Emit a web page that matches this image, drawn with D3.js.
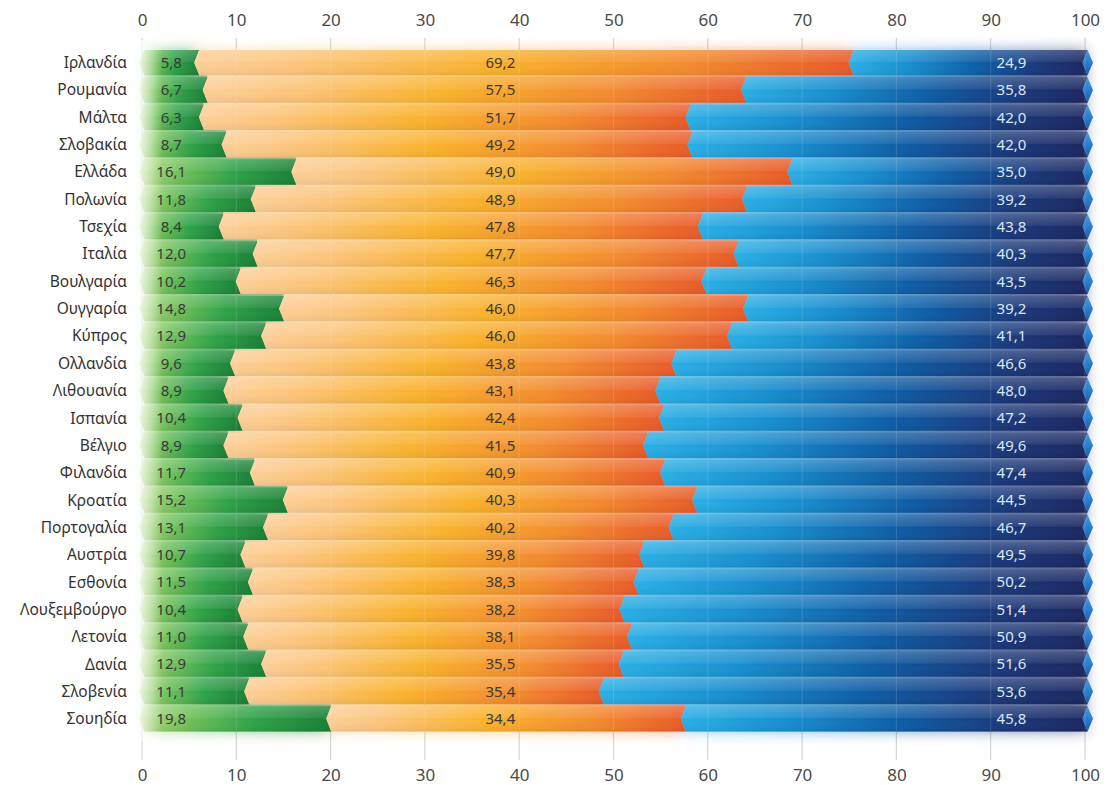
<!DOCTYPE html>
<html><head><meta charset="utf-8">
<script src="https://cdn.jsdelivr.net/npm/d3@7"></script>
<style>body{margin:0;background:#fff}</style>
</head><body><svg id="c" width="1110" height="785"></svg>
<script>
const countries = ["Ιρλανδία","Ρουμανία","Μάλτα","Σλοβακία","Ελλάδα","Πολωνία","Τσεχία","Ιταλία","Βουλγαρία","Ουγγαρία","Κύπρος","Ολλανδία","Λιθουανία","Ισπανία","Βέλγιο","Φιλανδία","Κροατία","Πορτογαλία","Αυστρία","Εσθονία","Λουξεμβούργο","Λετονία","Δανία","Σλοβενία","Σουηδία"];
const greenVals = [5.8,6.7,6.3,8.7,16.1,11.8,8.4,12.0,10.2,14.8,12.9,9.6,8.9,10.4,8.9,11.7,15.2,13.1,10.7,11.5,10.4,11.0,12.9,11.1,19.8];
const orangeVals = [69.2,57.5,51.7,49.2,49.0,48.9,47.8,47.7,46.3,46.0,46.0,43.8,43.1,42.4,41.5,40.9,40.3,40.2,39.8,38.3,38.2,38.1,35.5,35.4,34.4];
const blueVals = [24.9,35.8,42.0,42.0,35.0,39.2,43.8,40.3,43.5,39.2,41.1,46.6,48.0,47.2,49.6,47.4,44.5,46.7,49.5,50.2,51.4,50.9,51.6,53.6,45.8];
// where the orange band visibly ends in the reference picture
const orangeEndShown = [75.2,63.8,57.9,58.1,68.7,63.9,59.2,63.0,59.6,64.0,62.3,56.4,54.7,55.1,53.4,55.2,58.6,56.1,53.0,52.4,50.9,51.7,50.8,48.7,57.4];
const tickValues = [0,10,20,30,40,50,60,70,80,90,100];

const fmt = v => v.toFixed(1).replace('.', ',');
const svg = d3.select('#c');
const x = d3.scaleLinear().domain([0,100]).range([142,1085]);
const y = d3.scaleBand().domain(countries).range([50,731.5]).paddingInner(0.075).paddingOuter(0);
const step = y.step(), bw = y.bandwidth();
const D = 5;
const FONT = "'Noto Sans', 'Open Sans', sans-serif";

const defs = svg.append('defs');
function lin(id, stops, vertical){
  const g = defs.append('linearGradient').attr('id', id);
  if (vertical) g.attr('x1',0).attr('y1',0).attr('x2',0).attr('y2',1);
  stops.forEach(s => g.append('stop').attr('offset', s[0]).attr('stop-color', s[1]).attr('stop-opacity', s[2] == null ? 1 : s[2]));
}
lin('gGreen', [[0,'#b3dc84'],[0.25,'#72c15a'],[0.6,'#2ea248'],[1,'#1a7f36']]);
lin('gOrange', [[0,'#fccf98'],[0.15,'#fcc57c'],[0.45,'#f9b22c'],[0.75,'#f38a2e'],[1,'#e85a29']]);
lin('gBlue', [[0,'#2aafe5'],[0.25,'#1890d0'],[0.55,'#0e5ca4'],[0.8,'#1a387a'],[1,'#1b2760']]);
lin('gDiamond', [[0,'#3f9fe4'],[1,'#1a5cb2']], true);
lin('gShine', [[0,'#ffffff',0.22],[0.45,'#ffffff',0.08],[0.5,'#ffffff',0],[1,'#000000',0.06]], true);
lin('gFade', [[0,'#ffffff',1],[0.35,'#ffffff',0.7],[1,'#ffffff',0]]);
defs.append('filter').attr('id','blur').attr('x','-10%').attr('y','-10%').attr('width','120%').attr('height','120%')
  .append('feGaussianBlur').attr('stdDeviation', 7);

const rows = countries.map((c,i) => {
  const g = greenVals[i], oe = orangeEndShown[i];
  return {c, segs:[
    {v0:0, v1:g, fill:'url(#gGreen)', val:greenVals[i]},
    {v0:g, v1:oe, fill:'url(#gOrange)', val:orangeVals[i]},
    {v0:oe, v1:100, fill:'url(#gBlue)', val:blueVals[i]}
  ]};
});

function segPath(v0, v1, t, h){
  const xa = x(v0), xb = x(v1), m = t + h/2, bt = t + h;
  return `M${xa + D/2},${t}L${xb + D/2},${t}L${xb - D/2},${m}L${xb + D/2},${bt}L${xa + D/2},${bt}L${xa - D/2},${m}Z`;
}

// gridlines
const grid = svg.append('g');
tickValues.forEach(t => {
  grid.append('line').attr('x1', x(t)).attr('x2', x(t)).attr('y1', 38).attr('y2', 760)
    .attr('stroke', '#d6d6d6').attr('stroke-width', 1.2);
});

// glow
const glow = svg.append('g').attr('filter','url(#blur)').attr('opacity',0.55);
rows.forEach(r => r.segs.forEach(s => {
  glow.append('path').attr('d', segPath(s.v0, s.v1, y(r.c), bw)).attr('fill', s.fill);
}));

// underlay (tinted separators)
const under = svg.append('g').attr('opacity', 0.4);
rows.forEach((r,i) => r.segs.forEach(s => {
  under.append('path').attr('d', segPath(s.v0, s.v1, y(r.c) - (i>0 ? (step-bw) : 0), bw + (i>0 ? (step-bw) : 0))).attr('fill', s.fill);
}));

// bars
const bars = svg.append('g');
rows.forEach(r => {
  const t = y(r.c);
  r.segs.forEach(s => bars.append('path').attr('d', segPath(s.v0, s.v1, t, bw)).attr('fill', s.fill));
  bars.append('path').attr('d', segPath(0, 100, t, bw)).attr('fill', 'url(#gShine)');
  const X = x(100), m = t + bw/2;
  bars.append('path').attr('d', `M${X - D/2},${m}L${X + D/2},${t}L${X + 8},${m}L${X + D/2},${t + bw}Z`).attr('fill', 'url(#gDiamond)');
});

// faint gridlines over bars
tickValues.forEach(t => {
  svg.append('line').attr('x1', x(t)).attr('x2', x(t)).attr('y1', 50).attr('y2', 731)
    .attr('stroke', '#ffffff').attr('stroke-opacity', 0.12).attr('stroke-width', 1.2);
});

// left fade
svg.append('rect').attr('x', 128).attr('y', 40).attr('width', 34).attr('height', 702).attr('fill', 'url(#gFade)');

// axes
const axTop = d3.axisTop(x).tickValues(tickValues).tickSize(0).tickPadding(0).tickFormat(d3.format('d'));
const axBot = d3.axisBottom(x).tickValues(tickValues).tickSize(0).tickPadding(0).tickFormat(d3.format('d'));
const gt = svg.append('g').attr('transform', 'translate(0,26)').call(axTop);
const gb = svg.append('g').attr('transform', 'translate(0,781)').call(axBot);
[gt, gb].forEach(g => {
  g.select('.domain').remove();
  g.selectAll('text').attr('font-family', FONT).attr('font-size', 17).attr('fill', '#4a4a4a');
});
gb.selectAll('text').attr('dy', '0');

// country labels
svg.append('g').selectAll('text').data(countries).join('text')
  .attr('x', 127).attr('y', d => y(d) + bw/2).attr('dy', '0.35em')
  .attr('text-anchor', 'end').attr('font-family', FONT).attr('font-size', 15.5).attr('fill', '#333')
  .text(d => d);

// value labels
const vl = svg.append('g').attr('font-family', FONT).attr('font-size', 15).attr('text-anchor', 'middle');
rows.forEach(r => {
  const cy = y(r.c) + bw/2;
  vl.append('text').attr('x', x(3.1)).attr('y', cy).attr('dy', '0.35em').attr('fill', '#3a3a3a').text(fmt(r.segs[0].val));
  vl.append('text').attr('x', x(38)).attr('y', cy).attr('dy', '0.35em').attr('fill', '#3a3a3a').text(fmt(r.segs[1].val));
  vl.append('text').attr('x', x(92.2)).attr('y', cy).attr('dy', '0.35em').attr('fill', '#dde6f4').text(fmt(r.segs[2].val));
});
</script>
</body></html>
